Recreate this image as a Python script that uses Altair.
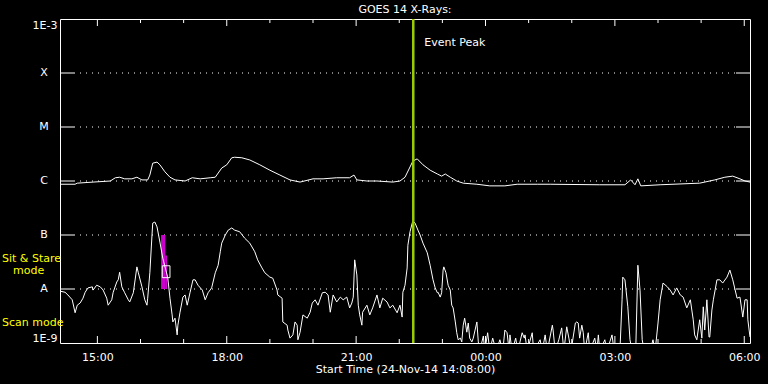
import altair as alt
import pandas as pd

START = pd.Timestamp("2014-11-24 14:08:00")
END = pd.Timestamp("2014-11-25 06:08:00")

# GOES 14 long channel (1-8 A): minutes after start, log10 flux (W/m^2)
long_min = [0, 21, 24, 46, 70, 77, 83, 90, 100, 107,
            114, 122, 125, 129, 135, 139, 146, 153, 160, 174,
            184, 195, 209, 216, 225, 232, 239, 243, 253, 264,
            278, 292, 306, 320, 334, 352, 366, 385, 403, 409,
            413, 427, 441, 463, 473, 480, 487, 491, 497, 505,
            515, 525, 531, 536, 543, 552, 561, 580, 598, 619,
            636, 664, 682, 751, 786, 794, 800, 804, 808, 835,
            890, 911, 925, 936, 946, 953, 960]
long_log = [-6.06, -6.06, -6.04, -6.02, -6.00, -5.94, -5.93, -5.96, -5.96, -5.93,
            -5.98, -5.98, -5.89, -5.67, -5.65, -5.70, -5.83, -5.93, -5.98, -6.00,
            -5.94, -5.96, -5.94, -5.93, -5.76, -5.70, -5.57, -5.56, -5.57, -5.61,
            -5.70, -5.80, -5.89, -5.98, -6.02, -5.96, -5.96, -5.94, -5.94, -5.89,
            -5.98, -6.00, -6.00, -6.02, -6.00, -5.93, -5.74, -5.63, -5.59, -5.70,
            -5.80, -5.87, -5.91, -5.87, -5.93, -6.00, -6.04, -6.06, -6.09, -6.09,
            -6.06, -6.06, -6.06, -6.07, -6.07, -5.98, -6.07, -5.96, -6.09, -6.07,
            -6.04, -5.98, -5.93, -5.91, -5.96, -6.00, -6.02]

# GOES 14 short channel (0.5-4 A): minutes after start, log10 flux (W/m^2)
short_min = [0, 7, 11, 17, 21, 24, 28, 32, 35, 39,
             45, 46, 51, 56, 60, 65, 67, 72, 74, 79,
             81, 83, 86, 90, 95, 97, 102, 107, 109, 114,
             118, 121, 122, 125, 128, 129, 132, 135, 139, 143,
             149, 150, 153, 156, 157, 160, 163, 164, 167, 171,
             174, 177, 181, 185, 188, 192, 198, 202, 206, 211,
             216, 220, 223, 225, 230, 234, 239, 243, 250,
             257, 264, 271, 275, 281, 285, 292, 296, 302, 303,
             309, 310, 316, 317, 320, 324, 327, 330, 331, 334,
             338, 344, 348, 351, 355, 359, 365, 369, 373, 376,
             380, 385, 390, 394, 399, 403, 406, 408, 410, 413,
             415, 417, 420, 421, 427, 431, 435, 441, 445, 449,
             455, 459, 463, 469, 473, 476, 477, 480, 483, 484,
             487, 490, 491, 494, 498,
             501, 505, 511, 515, 519, 522, 525, 526, 529, 531,
             533, 534, 537, 540, 543, 545, 547, 550, 552, 554,
             557, 559, 561, 563, 566, 568, 570, 573, 575, 580,
             582,
             584, 589, 591, 595, 598, 602, 607, 612, 616, 619,
             622, 625, 626, 629, 634, 637, 643, 646, 647, 650,
             657, 659, 668, 671, 675, 678, 685, 686, 689, 694,
             698, 701, 705, 708, 711, 717, 719, 721, 723, 726,
             728, 730, 735, 737, 744, 747, 749, 751, 758, 761,
             768, 771, 779, 782, 783, 786, 790, 793, 796, 801,
             804, 807, 810, 813, 821, 825, 828, 832, 835, 839,
             845, 849, 853, 858, 863, 867, 872, 877, 881, 883,
             886, 890, 893, 895, 897, 900, 903, 904, 907, 909,
             914, 918, 922, 928, 932, 936, 942, 946, 950, 953,
             956, 957, 960]
short_log = [-8.04, -8.06, -8.11, -8.20, -8.44, -8.30, -8.26, -8.17, -8.06, -7.98,
             -7.96, -8.02, -7.93, -7.96, -8.02, -8.17, -8.30, -8.20, -8.06, -7.87,
             -7.83, -7.69, -7.96, -8.07, -8.20, -8.24, -8.07, -7.59, -7.70, -7.96,
             -8.20, -8.30, -8.17, -7.70, -7.00, -6.78, -6.76, -6.85, -7.13, -7.43,
             -7.74, -7.80, -8.17, -8.48, -8.61, -8.54, -8.85, -8.67, -8.43, -8.15,
             -8.11, -8.30, -8.06, -7.83, -7.83, -7.93, -8.02, -8.20, -8.07, -7.98,
             -7.70, -7.56, -7.31, -7.15, -7.00, -6.91, -6.87, -6.91, -6.94,
             -7.06, -7.15, -7.31, -7.46, -7.61, -7.70, -7.78, -7.80, -8.02, -8.11,
             -8.17, -8.61, -8.67, -8.76, -8.91, -8.85, -8.61, -8.67, -8.94, -8.80,
             -8.48, -8.54, -8.43, -8.26, -8.20, -8.30, -8.07, -8.06, -8.11, -8.43,
             -8.11, -8.24, -8.15, -8.20, -8.15, -8.35, -8.26, -8.15, -7.46, -7.74,
             -8.30, -8.48, -8.67, -8.43, -8.30, -8.48, -8.35, -8.11, -8.35, -8.17,
             -8.24, -8.35, -8.30, -8.44, -8.30, -8.52, -8.06, -7.93, -7.61, -7.19,
             -6.94, -6.78, -6.74, -6.78, -6.91,
             -7.00, -7.15, -7.33, -7.56, -7.83, -7.98, -8.07, -8.06, -8.15, -8.07,
             -7.65, -7.59, -7.70, -7.93, -8.02, -8.30, -8.35, -8.61, -8.81, -8.94,
             -8.91, -8.98, -8.67, -8.54, -8.80, -8.63, -8.91, -8.98, -8.91, -8.61,
             -8.98,
             -9.15, -8.87, -9.15, -8.81, -9.15, -8.91, -9.15, -8.94, -9.15, -8.76,
             -8.81, -9.15, -8.85, -9.15, -8.91, -9.15, -8.81, -8.91, -8.85, -9.15,
             -8.81, -9.15, -8.94, -9.15, -8.85, -9.15, -8.67, -8.76, -9.15, -8.94,
             -8.72, -9.15, -8.70, -8.91, -9.15, -8.63, -8.61, -8.63, -8.91, -8.67,
             -8.81, -9.15, -8.81, -9.15, -8.91, -9.15, -8.85, -9.15, -8.94, -9.15,
             -8.85, -9.15, -9.15, -8.20, -7.78, -7.83, -8.33, -8.94, -9.15, -9.15,
             -7.56, -8.02, -8.94, -9.15, -9.15, -8.94, -9.15, -8.63, -8.20, -7.89,
             -7.96, -8.02, -8.11, -7.98, -8.11, -8.15, -8.35, -8.20, -8.57, -8.85,
             -8.94, -8.57, -8.91, -8.33, -8.76, -8.20, -8.89, -8.89, -8.39, -8.20,
             -7.83, -7.83, -7.89, -7.78, -7.65, -7.83, -8.17, -8.15, -8.52, -8.20,
             -8.20, -8.57, -8.89]

level_names = ["A", "B", "C", "M", "X"]
level_logs = [-8, -7, -6, -5, -4]

major_hours = ["2014-11-24 15:00", "2014-11-24 18:00", "2014-11-24 21:00",
               "2014-11-25 00:00", "2014-11-25 03:00", "2014-11-25 06:00"]
minor_hours = ["2014-11-24 16:00", "2014-11-24 17:00", "2014-11-24 19:00",
               "2014-11-24 20:00", "2014-11-24 22:00", "2014-11-24 23:00",
               "2014-11-25 01:00", "2014-11-25 02:00", "2014-11-25 04:00",
               "2014-11-25 05:00"]

event_peak_min = 491.5

obs_x1_min = [140.5, 146.5]
obs_x2_min = [146.5, 149.0]
obs_top_log = [-7.0, -7.38]
obs_bot_log = [-8.0, -8.0]

box_x_min = [142.3, 153.0]
box_y_log = [-7.57, -7.79]


def iso(m):
    return (START + pd.Timedelta(minutes=m)).strftime("%Y-%m-%dT%H:%M:%S")


def iso_ts(ts):
    return pd.Timestamp(ts).strftime("%Y-%m-%dT%H:%M:%S")


def dt(ts):
    t = pd.Timestamp(ts)
    return alt.DateTime(year=t.year, month=t.month, date=t.day,
                        hours=t.hour, minutes=t.minute)


FONT = "DejaVu Sans"
WHITE = "white"
W, H = 690, 324

xs = alt.Scale(domain=[dt(START), dt(END)])
ys = alt.Scale(domain=[-9, -3])

X_AXIS = alt.Axis(values=[dt(h) for h in major_hours], format="%H:%M",
                  ticks=False, tickSize=0, domain=False, grid=False,
                  labelColor=WHITE, labelFont=FONT, labelFontSize=11, labelPadding=8,
                  title="Start Time (24-Nov-14 14:08:00)", titleColor=WHITE,
                  titleFont=FONT, titleFontSize=11, titleFontWeight="normal",
                  titlePadding=1)
Y_AXIS = alt.Axis(values=[-9, -3], labelExpr="'1E' + datum.value", labelFlush=True,
                  ticks=False, tickSize=0, domain=False, grid=False,
                  labelColor=WHITE, labelFont=FONT, labelFontSize=11, labelPadding=3,
                  title=None)

long_df = pd.DataFrame({"t": [iso(m) for m in long_min], "v": long_log})
short_df = pd.DataFrame({"t": [iso(m) for m in short_min], "v": short_log})
lev_df = pd.DataFrame({"name": level_names, "v": level_logs})
major_df = pd.DataFrame({"t": [iso_ts(h) for h in major_hours]})
minor_df = pd.DataFrame({"t": [iso_ts(h) for h in minor_hours]})
event_df = pd.DataFrame({"t": [iso(event_peak_min)], "label": ["Event Peak"]})
obs_df = pd.DataFrame({"t": [iso(m) for m in obs_x1_min], "t2": [iso(m) for m in obs_x2_min],
                       "v": obs_top_log, "v2": obs_bot_log})
box_df = pd.DataFrame({"t": [iso(box_x_min[0])], "t2": [iso(box_x_min[1])],
                       "v": [box_y_log[0]], "v2": [box_y_log[1]]})


def X():
    return alt.X("t:T", scale=xs, axis=X_AXIS)


def Y():
    return alt.Y("v:Q", scale=ys, axis=Y_AXIS)


grid = alt.Chart(lev_df).mark_rule(color=WHITE, strokeWidth=1, strokeDash=[1, 5]).encode(
    y=Y(), x=alt.value(14), x2=alt.value(W - 14))
lticks = alt.Chart(lev_df).mark_rule(color=WHITE, strokeWidth=1).encode(
    y=Y(), x=alt.value(0), x2=alt.value(14))
rticks = alt.Chart(lev_df).mark_rule(color=WHITE, strokeWidth=1).encode(
    y=Y(), x=alt.value(W - 14), x2=alt.value(W))
letters = alt.Chart(lev_df).mark_text(color=WHITE, font=FONT, fontSize=11, align="center",
                                      baseline="middle").encode(
    y=Y(), x=alt.value(-16), text="name:N")

top_major = alt.Chart(major_df).mark_rule(color=WHITE).encode(x=X(), y=alt.value(0), y2=alt.value(7))
bot_major = alt.Chart(major_df).mark_rule(color=WHITE).encode(x=X(), y=alt.value(H), y2=alt.value(H - 7))
top_minor = alt.Chart(minor_df).mark_rule(color=WHITE).encode(x=X(), y=alt.value(0), y2=alt.value(4))
bot_minor = alt.Chart(minor_df).mark_rule(color=WHITE).encode(x=X(), y=alt.value(H), y2=alt.value(H - 4))

obs = alt.Chart(obs_df).mark_rect(color="#CC00CC").encode(
    x=X(), x2="t2:T", y=Y(), y2="v2:Q")
box = alt.Chart(box_df).mark_rect(fillOpacity=0, stroke=WHITE, strokeWidth=1).encode(
    x=X(), x2="t2:T", y=Y(), y2="v2:Q")

long_line = alt.Chart(long_df).mark_line(color=WHITE, strokeWidth=1, clip=True).encode(x=X(), y=Y())
short_line = alt.Chart(short_df).mark_line(color=WHITE, strokeWidth=1, clip=True).encode(x=X(), y=Y())

event_rule = alt.Chart(event_df).mark_rule(color="#9ACD00", strokeWidth=2.5).encode(
    x=X(), y=alt.value(0), y2=alt.value(H))
event_text = alt.Chart(event_df).mark_text(color=WHITE, font=FONT, fontSize=11, align="left",
                                           baseline="middle", dx=11).encode(
    x=X(), y=alt.value(24), text="label:N")

title = alt.Chart(event_df).mark_text(color=WHITE, font=FONT, fontSize=11, align="center",
                                      baseline="middle").encode(
    x=alt.value(W / 2), y=alt.value(-9), text=alt.value("GOES 14 X-Rays:"))
sit1 = alt.Chart(event_df).mark_text(color="#FFFF00", font=FONT, fontSize=11, align="left",
                                     baseline="middle").encode(
    x=alt.value(-58), y=alt.value(240), text=alt.value("Sit & Stare"))
sit2 = alt.Chart(event_df).mark_text(color="#FFFF00", font=FONT, fontSize=11, align="left",
                                     baseline="middle").encode(
    x=alt.value(-47), y=alt.value(252), text=alt.value("mode"))
scan = alt.Chart(event_df).mark_text(color="#FFFF00", font=FONT, fontSize=11, align="left",
                                     baseline="middle").encode(
    x=alt.value(-58), y=alt.value(304), text=alt.value("Scan mode"))

chart = alt.layer(
    grid, lticks, rticks, top_major, bot_major, top_minor, bot_minor,
    obs, box, long_line, short_line, event_rule, event_text, letters,
    title, sit1, sit2, scan
).properties(
    width=W, height=H,
    autosize=alt.AutoSizeParams(type="none"),
    padding={"left": 60, "top": 19, "right": 18, "bottom": 41},
    background="black",
).configure_view(stroke=WHITE, strokeWidth=1)

chart.save("out.html", embed_options={"renderer": "svg", "actions": False})
